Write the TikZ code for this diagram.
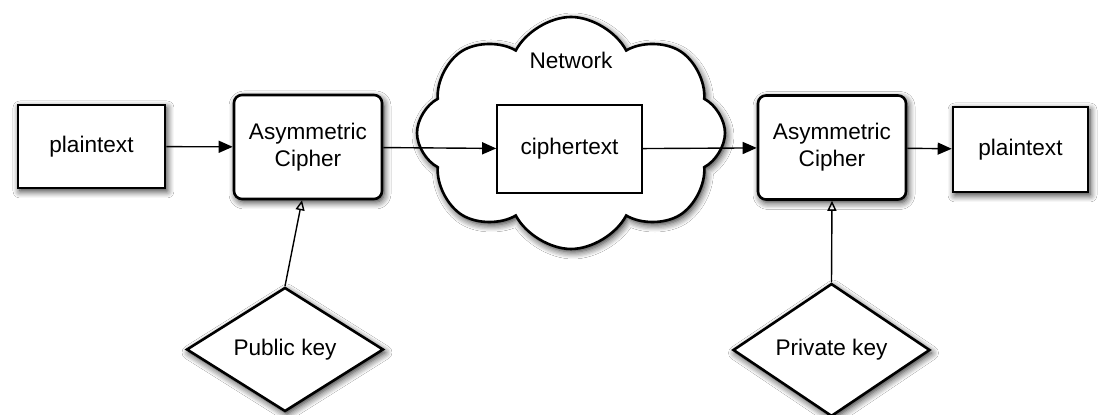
\documentclass[tikz,border=0pt]{standalone}
\usepackage{fontspec}
\setmainfont{Liberation Sans}
\usetikzlibrary{shapes.geometric,shapes.symbols,arrows.meta,shadows.blur}
\begin{document}
\begin{tikzpicture}[x=0.5pt,y=-0.5pt,
    font=\fontsize{11.3}{13.5}\selectfont,
    shade/.style={blur shadow={shadow xshift=1pt,shadow yshift=-1.5pt,shadow blur steps=6,shadow blur radius=3.5pt,shadow opacity=85}},
    plainbox/.style={draw,line width=1.3pt,fill=white,shade,inner sep=0pt},
    cipherbox/.style={draw,line width=1.3pt,fill=white,shade,rounded corners=4pt,align=center,inner sep=0pt,minimum width=74pt,minimum height=52pt},
    keybox/.style={draw,diamond,line width=1.3pt,fill=white,shade,inner sep=0pt,minimum width=98.5pt,minimum height=52.5pt},
    flow/.style={-{Triangle[length=7pt,width=6pt]},line width=0.7pt},
    keyflow/.style={-{Triangle[open,length=5pt,width=4.5pt]},line width=0.7pt}]
    \useasboundingbox[fill=white] (0,0) rectangle (1100,415);
    \node[draw,cloud,cloud puffs=8,cloud puff arc=125,line width=1.3pt,fill=white,shade,minimum width=154pt,minimum height=116pt] (net) at (571,133) {};
    \node (netlabel) at (571,60) {Network};
    \node[draw,line width=0.8pt,fill=white,minimum width=72.5pt,minimum height=44pt] (cipher) at (569.5,149) {ciphertext};
    \node[plainbox,minimum width=73.5pt,minimum height=41.5pt] (plainA) at (91.5,146.5) {plaintext};
    \node[cipherbox] (encA) at (308,147) {Asymmetric\\Cipher};
    \node[cipherbox] (encB) at (832,147.5) {Asymmetric\\Cipher};
    \node[plainbox,minimum width=67.5pt,minimum height=42.5pt] (plainB) at (1020.5,149.5) {plaintext};
    \node[keybox] (pubkey) at (285,349.5) {Public key};
    \node[keybox] (privkey) at (831.5,350) {Private key};
    \draw[flow] (plainA) -- (encA);
    \draw[flow] (encA) -- (cipher);
    \draw[flow] (cipher) -- (encB);
    \draw[flow] (encB) -- (plainB);
    \draw[keyflow] (pubkey.north) -- ([xshift=-3pt]encA.south);
    \draw[keyflow] (privkey.north) -- (encB.south);
\end{tikzpicture}
\end{document}
